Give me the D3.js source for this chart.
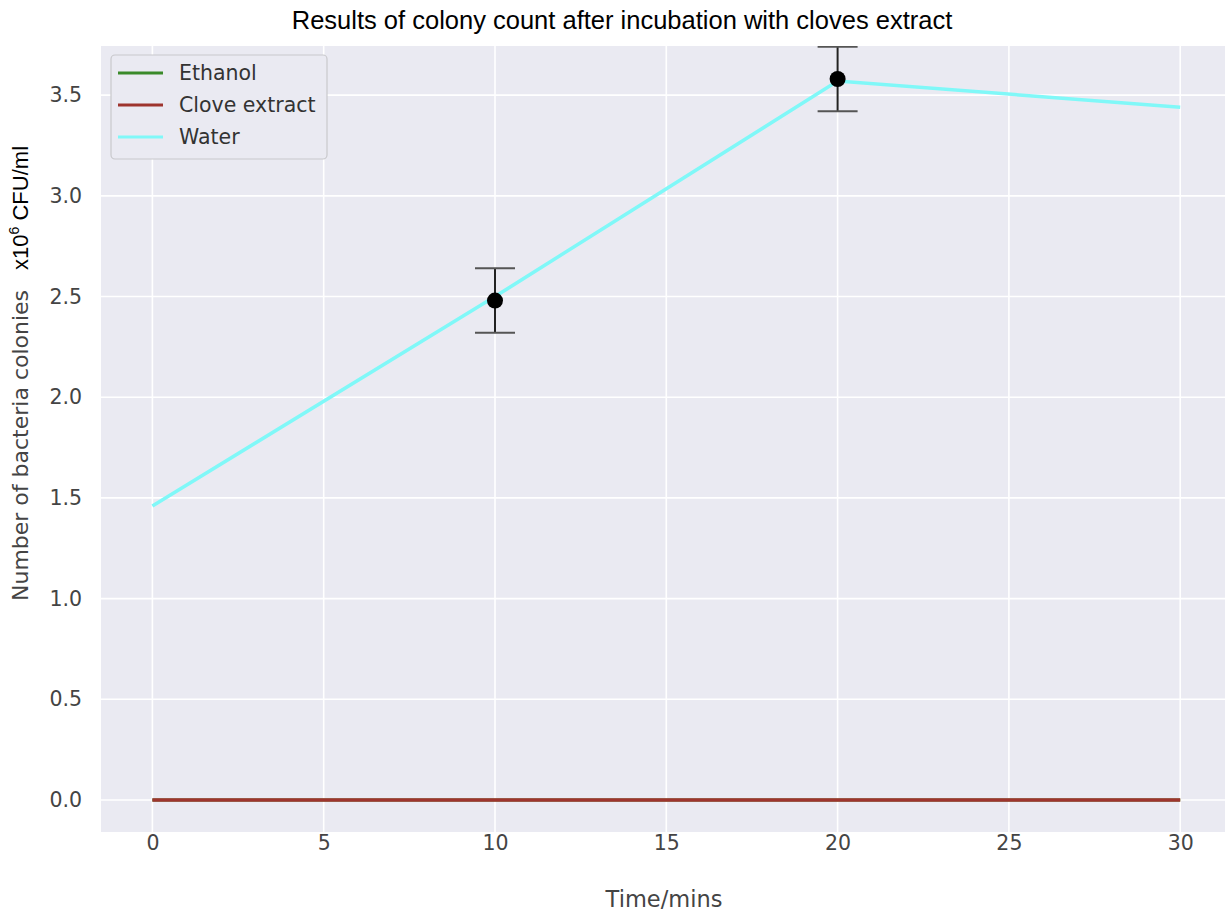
<!DOCTYPE html>
<html><head><meta charset="utf-8">
<script src="https://cdn.jsdelivr.net/npm/d3@7"></script>
<style>body{margin:0;background:#fff}svg{display:block}</style>
</head><body>
<svg id="c" width="1225" height="913"></svg>
<script>
const times = [0, 10, 20, 30];
const ethanol = [0, 0, 0, 0];
const clove = [0, 0, 0, 0];
const water = [1.46, 2.50, 3.57, 3.44];
const errTimes = [10, 20];
const errMeans = [2.48, 3.58];
const errSd = [0.16, 0.16];
const xTicks = [0, 5, 10, 15, 20, 25, 30];
const yTicks = [0.0, 0.5, 1.0, 1.5, 2.0, 2.5, 3.0, 3.5];

const svg = d3.select("#c");
const L = 101, T = 46, B = 832, R = 1231.6;
const x = d3.scaleLinear().domain([-1.5, 31.5]).range([L, R]);
const y = d3.scaleLinear().domain([-0.159, 3.744]).range([B, T]);

svg.append("defs").append("clipPath").attr("id","clip")
  .append("rect").attr("x",L).attr("y",T).attr("width",R-L).attr("height",B-T);

svg.append("rect").attr("x",L).attr("y",T).attr("width",R-L).attr("height",B-T).attr("fill","#eaeaf2");

const g = svg.append("g");
g.selectAll(".gx").data(xTicks).enter().append("line")
  .attr("x1",d=>x(d)).attr("x2",d=>x(d)).attr("y1",T).attr("y2",B)
  .attr("stroke","#fff").attr("stroke-width",1.6);
g.selectAll(".gy").data(yTicks).enter().append("line")
  .attr("y1",d=>y(d)).attr("y2",d=>y(d)).attr("x1",L).attr("x2",R)
  .attr("stroke","#fff").attr("stroke-width",1.6);

const xa = svg.append("g").attr("transform",`translate(0,${B})`)
  .call(d3.axisBottom(x).tickValues(xTicks).tickFormat(d3.format("d")).tickSize(0).tickPadding(3));
const ya = svg.append("g").attr("transform",`translate(${L},0)`)
  .call(d3.axisLeft(y).tickValues(yTicks).tickFormat(d3.format(".1f")).tickSize(0).tickPadding(19));
[xa, ya].forEach(a => {
  a.select(".domain").remove();
  a.selectAll("text").attr("font-family","DejaVu Sans").attr("font-size",20.5).attr("fill","#444");
});

const plot = svg.append("g").attr("clip-path","url(#clip)");
const line = d3.line().x((d,i)=>x(times[i])).y(d=>y(d));
plot.append("path").attr("d",line(ethanol)).attr("fill","none").attr("stroke","#3a8a2a").attr("stroke-width",3);
plot.append("path").attr("d",line(clove)).attr("fill","none").attr("stroke","#9e342e").attr("stroke-width",3.5);
plot.append("path").attr("d",line(water)).attr("fill","none").attr("stroke","#80f8f8").attr("stroke-width",3.5);

errTimes.forEach((t,i) => {
  const cx = x(t), m = errMeans[i], s = errSd[i];
  plot.append("line").attr("x1",cx).attr("x2",cx).attr("y1",y(m-s)).attr("y2",y(m+s))
    .attr("stroke","#222").attr("stroke-width",2);
  [m-s, m+s].forEach(v => plot.append("line").attr("x1",cx-20).attr("x2",cx+20)
    .attr("y1",y(v)).attr("y2",y(v)).attr("stroke","#555").attr("stroke-width",2));
  plot.append("circle").attr("cx",cx).attr("cy",y(m)).attr("r",8).attr("fill","#000");
});

const lg = svg.append("g");
lg.append("rect").attr("x",111).attr("y",55).attr("width",216).attr("height",104).attr("rx",4)
  .attr("fill","#eaeaf2").attr("stroke","#c8c8cc").attr("stroke-width",1.2);
const items = [["Ethanol","#3a8a2a"],["Clove extract","#9e342e"],["Water","#80f8f8"]];
items.forEach((it,i) => {
  const yy = 73 + i*32;
  lg.append("line").attr("x1",118).attr("x2",163).attr("y1",yy).attr("y2",yy).attr("stroke",it[1]).attr("stroke-width",3);
  lg.append("text").attr("x",179).attr("y",yy).attr("dy","0.35em").text(it[0])
    .attr("font-family","DejaVu Sans").attr("font-size",20.5).attr("fill","#333");
});

svg.append("text").attr("x",622).attr("y",29).attr("text-anchor","middle")
  .attr("font-family","Liberation Sans").attr("font-size",25.5).attr("fill","#000")
  .text("Results of colony count after incubation with cloves extract");

svg.append("text").attr("x",664).attr("y",907).attr("text-anchor","middle")
  .attr("font-family","DejaVu Sans").attr("font-size",22.5).attr("fill","#444").text("Time/mins");

const yl = svg.append("text").attr("transform","translate(28,601) rotate(-90)")
  .attr("text-anchor","start");
yl.append("tspan").attr("font-family","DejaVu Sans").attr("font-size",22).attr("fill","#444")
  .text("Number of bacteria colonies");
yl.append("tspan").attr("font-family","Liberation Sans").attr("font-size",22).attr("fill","#000").attr("dx",20).text("x10");
yl.append("tspan").attr("font-family","Liberation Sans").attr("font-size",14).attr("fill","#000").attr("dy",-9).text("6");
yl.append("tspan").attr("font-family","Liberation Sans").attr("font-size",22).attr("fill","#000").attr("dy",9).text(" CFU/ml");
</script>
</body></html>
